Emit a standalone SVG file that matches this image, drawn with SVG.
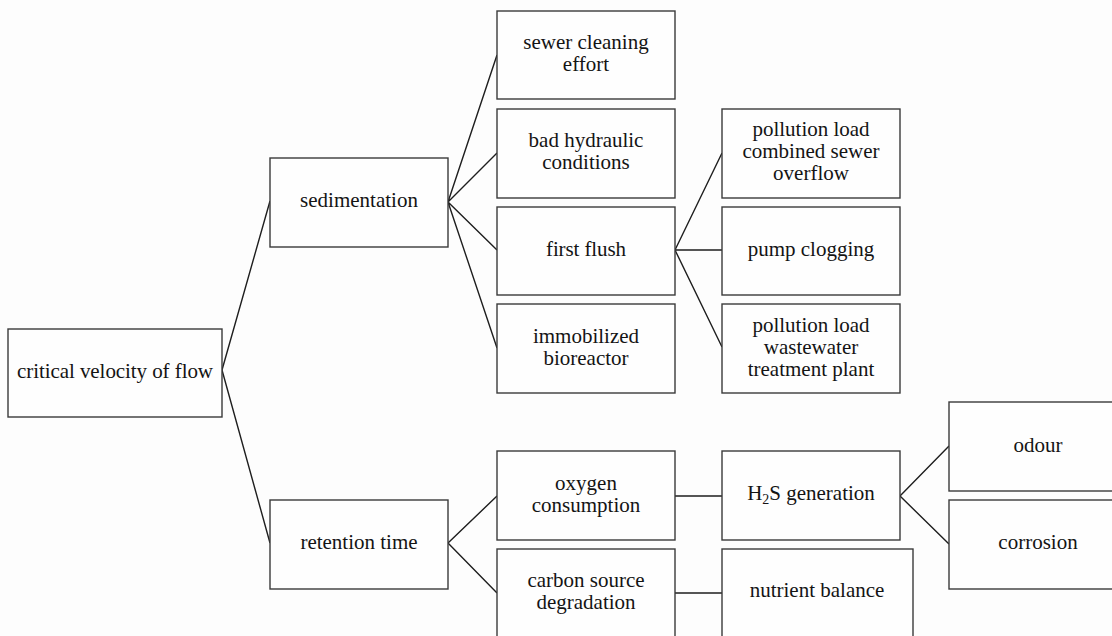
<svg xmlns="http://www.w3.org/2000/svg" width="1112" height="636" viewBox="0 0 1112 636">
<style>
.box{fill:#fefefe;stroke:#3a3a3a;stroke-width:1.4}
.t{font-family:"Liberation Serif","Times New Roman",serif;font-size:21px;fill:#141414;text-anchor:middle}
.c{stroke:#1e1e1e;stroke-width:1.4;fill:none}
</style>
<rect width="1112" height="636" fill="#fdfdfd"/>
<g id="connectors">
<path class="c" d="M222 370 L270 201 M222 370 L270 543"/>
<path class="c" d="M448 202 L497 55 M448 202 L497 153 M448 202 L497 250 M448 202 L497 348"/>
<path class="c" d="M675 250 L722 153 M675 250 L722 250 M675 250 L722 347"/>
<path class="c" d="M448 543 L497 496 M448 543 L497 593"/>
<path class="c" d="M674 496 L722 496 M674 593 L722 593"/>
<path class="c" d="M900 496 L949 446 M900 496 L949 544"/>
</g>
<g id="critical"><rect class="box" x="8" y="329" width="214" height="88"/><text class="t" x="115" y="378" textLength="196">critical velocity of flow</text></g>
<g id="sedimentation"><rect class="box" x="270" y="158" width="178" height="89"/><text class="t" x="359" y="207">sedimentation</text></g>
<g id="retention"><rect class="box" x="270" y="500" width="178" height="89"/><text class="t" x="359" y="549">retention time</text></g>
<g id="sewer-cleaning"><rect class="box" x="497" y="11" width="178" height="88"/><text class="t" x="586" y="49">sewer cleaning</text><text class="t" x="586" y="71">effort</text></g>
<g id="bad-hydraulic"><rect class="box" x="497" y="109" width="178" height="89"/><text class="t" x="586" y="147">bad hydraulic</text><text class="t" x="586" y="169">conditions</text></g>
<g id="first-flush"><rect class="box" x="497" y="207" width="178" height="88"/><text class="t" x="586" y="256" textLength="80">first flush</text></g>
<g id="immobilized"><rect class="box" x="497" y="304" width="178" height="89"/><text class="t" x="586" y="343">immobilized</text><text class="t" x="586" y="365">bioreactor</text></g>
<g id="pollution-cso"><rect class="box" x="722" y="109" width="178" height="89"/><text class="t" x="811" y="136">pollution load</text><text class="t" x="811" y="158">combined sewer</text><text class="t" x="811" y="180">overflow</text></g>
<g id="pump-clogging"><rect class="box" x="722" y="207" width="178" height="88"/><text class="t" x="811" y="256">pump clogging</text></g>
<g id="pollution-wwtp"><rect class="box" x="722" y="304" width="178" height="89"/><text class="t" x="811" y="332">pollution load</text><text class="t" x="811" y="354">wastewater</text><text class="t" x="811" y="376">treatment plant</text></g>
<g id="oxygen"><rect class="box" x="497" y="451" width="178" height="89"/><text class="t" x="586" y="490">oxygen</text><text class="t" x="586" y="512">consumption</text></g>
<g id="carbon"><rect class="box" x="497" y="549" width="178" height="89"/><text class="t" x="586" y="587">carbon source</text><text class="t" x="586" y="609">degradation</text></g>
<g id="h2s"><rect class="box" x="722" y="451" width="178" height="89"/><text class="t" x="811" y="500">H<tspan font-size="14" dy="4">2</tspan><tspan dy="-4">S generation</tspan></text></g>
<g id="nutrient"><rect class="box" x="722" y="549" width="191" height="89"/><text class="t" x="817" y="597">nutrient balance</text></g>
<g id="odour"><rect class="box" x="949" y="402" width="178" height="89"/><text class="t" x="1038" y="452">odour</text></g>
<g id="corrosion"><rect class="box" x="949" y="500" width="178" height="89"/><text class="t" x="1038" y="549">corrosion</text></g>
</svg>
